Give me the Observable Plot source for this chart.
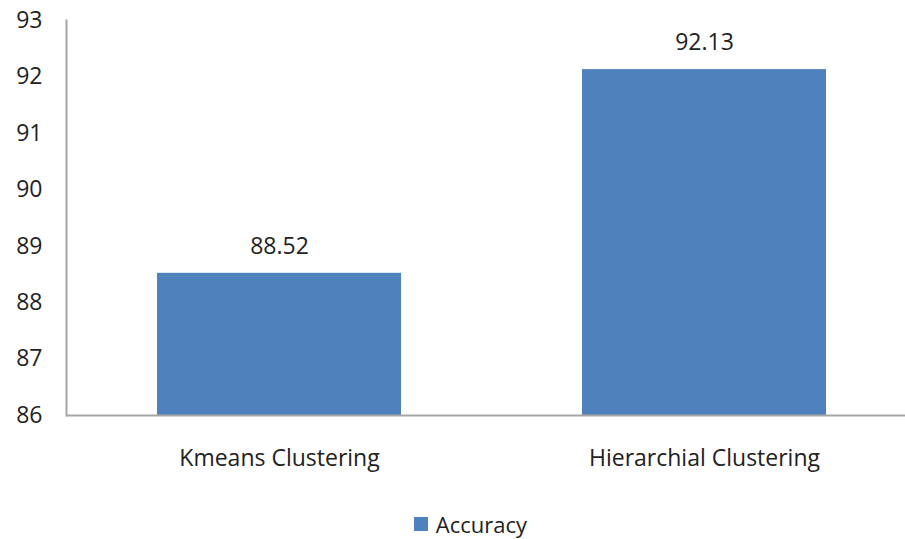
<!DOCTYPE html>
<html>
<head>
<meta charset="utf-8">
<script src="https://cdn.jsdelivr.net/npm/d3@7"></script>
<script src="https://cdn.jsdelivr.net/npm/@observablehq/plot@0.6"></script>
<style>
  body { margin: 0; background: #fff; font-family: "Open Sans", sans-serif; }
  #chart { position: relative; width: 905px; height: 539px; overflow: hidden; }
  #legend { position: absolute; left: 0; top: 512px; height: 24px; line-height: 24px; width: 905px; display: flex; justify-content: center; align-items: center; font-size: 22px; color: #222; padding-left: 36px; box-sizing: border-box; }
  #legend .sw { width: 14px; height: 14px; background: #4f81bd; margin-right: 8px; }
</style>
</head>
<body>
<div id="chart"></div>
<script>
const categories = ["Kmeans Clustering", "Hierarchial Clustering"];
const accuracy = [88.52, 92.13];
const yTicks = [86, 87, 88, 89, 90, 91, 92, 93];
const seriesName = "Accuracy";

const data = categories.map((c, i) => ({category: c, value: accuracy[i]}));

const plot = Plot.plot({
  width: 905,
  height: 490,
  marginTop: 20,
  marginBottom: 75,
  marginLeft: 66,
  marginRight: -11,
  style: {fontFamily: "Open Sans, sans-serif", fontSize: "23px", color: "#222", background: "#fff", overflow: "visible"},
  x: {domain: categories, paddingInner: 0.426, paddingOuter: 0.213, label: null},
  y: {domain: [86, 93], label: null},
  marks: [
    Plot.barY(data, {x: "category", y1: 86, y2: "value", fill: "#4f81bd"}),
    Plot.frame({anchor: "left", stroke: "#a6a6a6", strokeWidth: 2}),
    Plot.ruleY([86], {stroke: "#a6a6a6", strokeWidth: 2}),
    Plot.axisY({ticks: yTicks, tickFormat: d => String(d), tickSize: 0, tickPadding: 24, fontSize: 23, fill: "#222", label: null}),
    Plot.axisX({tickSize: 0, tickPadding: 34, fontSize: 23, fill: "#222", label: null}),
    Plot.text(data, {x: "category", y: "value", text: d => d.value.toFixed(2), dy: -27, fontSize: 23, fill: "#222"})
  ]
});

const chart = document.getElementById("chart");
chart.appendChild(plot);

const legend = document.createElement("div");
legend.id = "legend";
legend.innerHTML = `<span class="sw"></span><span>${seriesName}</span>`;
chart.appendChild(legend);
</script>
</body>
</html>
